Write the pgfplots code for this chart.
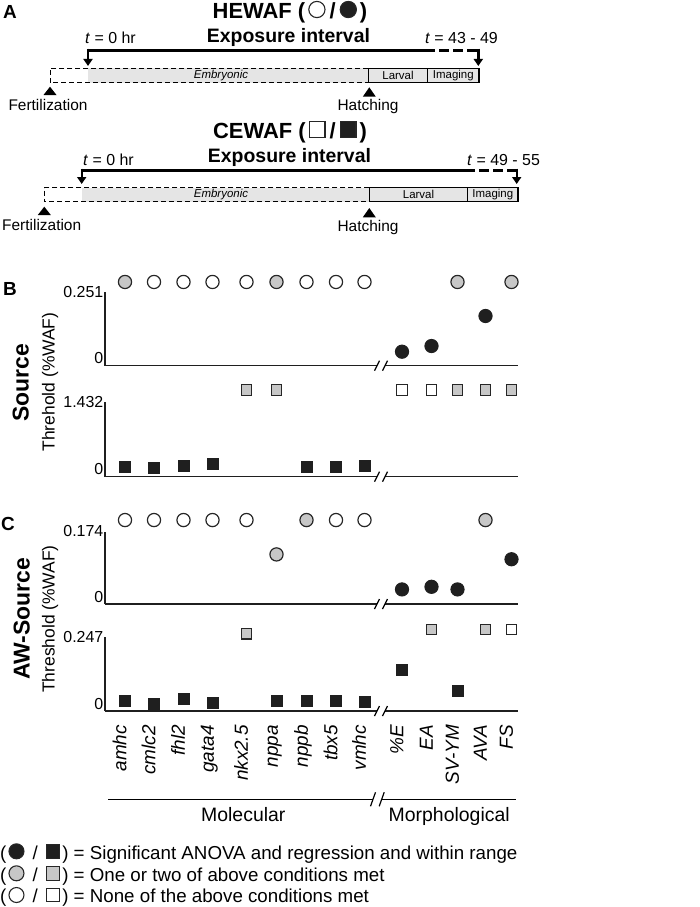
\documentclass[border=0pt]{standalone}
\usepackage{pgfplots}
\pgfplotsset{compat=1.18}
\usepackage{fontspec}
\setmainfont{Liberation Sans}
\usetikzlibrary{arrows.meta}

\definecolor{mgrey}{gray}{0.78}
\definecolor{medge}{gray}{0.15}
\definecolor{mblack}{gray}{0.12}
\definecolor{bargrey}{gray}{0.9}

\newcommand{\fs}[1]{\fontsize{#1}{#1}\selectfont}
% small inline symbols for titles and legend
\newcommand{\lcirc}[2][0.4em]{\tikz[baseline=-0.05em]\draw[line width=1.1bp,draw=medge,fill=#2] (0,0.36em) circle (#1);}
\newcommand{\lsq}[1]{\tikz[baseline=-0.05em]\draw[line width=1.1bp,draw=medge,fill=#1] (0,0) rectangle (0.72em,0.72em);}

\pgfplotsset{
  panel/.style={
    scale only axis, width=413.3bp, xmin=105, xmax=518.3, ymin=0, clip=false,
    axis x line*=bottom, axis y line*=left,
    x axis line style={draw=none},
    y axis line style={line width=1.4bp, draw=black!88},
    xtick=\empty, major tick length=0pt, tick style={draw=none},
    yticklabel style={font=\fs{16}, inner sep=1.5bp},
    extra y ticks={0}, extra y tick labels={0},
    extra y tick style={yticklabel style={anchor=south east}},
  },
  cw/.style={only marks, mark=*, mark size=6.6bp, mark options={draw=medge, fill=white, line width=1.2bp}},
  cg/.style={only marks, mark=*, mark size=6.6bp, mark options={draw=medge, fill=mgrey, line width=1.2bp}},
  cb/.style={only marks, mark=*, mark size=6.6bp, mark options={draw=mblack, fill=mblack, line width=1bp}},
  sw/.style={only marks, mark=square*, mark size=5.3bp, mark options={draw=medge, fill=white, line width=1.3bp}},
  sg/.style={only marks, mark=square*, mark size=5.3bp, mark options={draw=medge, fill=mgrey, line width=1.3bp}},
  sb/.style={only marks, mark=square*, mark size=5.5bp, mark options={draw=mblack, fill=mblack, line width=1bp}},
}

\begin{document}
\begin{tikzpicture}

% ---------------- B: Source, HEWAF ----------------
\begin{axis}[panel, at={(105bp,-365.7bp)}, anchor=south west, height=74bp,
  ymax=0.251, ytick={0.251}, yticklabels={0.251}]
\addplot[cw] coordinates {(154,0.284) (183.5,0.284) (212.5,0.284) (246.5,0.284) (306.5,0.284) (336,0.284) (364.5,0.284)};
\addplot[cg] coordinates {(125,0.284) (276.5,0.284) (457.5,0.284) (511.5,0.284)};
\addplot[cb] coordinates {(402,0.0475) (431.5,0.0668) (485.5,0.1686)};
\end{axis}

% ---------------- B: Source, CEWAF ----------------
\begin{axis}[panel, at={(105bp,-476.7bp)}, anchor=south west, height=75bp,
  ymax=1.432, ytick={1.432}, yticklabels={1.432}]
\addplot[sg] coordinates {(246.5,1.655) (276.5,1.655) (457.5,1.655) (485.5,1.655) (511.5,1.655)};
\addplot[sw] coordinates {(402,1.655) (431.5,1.655)};
\addplot[sb] coordinates {(125,0.185) (154,0.172) (183.5,0.197) (212.5,0.242) (306.5,0.178) (336,0.185) (364.5,0.197)};
\end{axis}

% ---------------- C: AW-Source, HEWAF ----------------
\begin{axis}[panel, at={(105bp,-604bp)}, anchor=south west, height=72.5bp,
  ymax=0.174, ytick={0.174}, yticklabels={0.174}]
\addplot[cw] coordinates {(125,0.2015) (154,0.2015) (183.5,0.2015) (212.5,0.2015) (246.5,0.2015) (336,0.2015) (364.5,0.2015)};
\addplot[cg] coordinates {(306.5,0.2015) (485.5,0.2015) (276.5,0.119)};
\addplot[cb] coordinates {(402,0.035) (431.5,0.0413) (457.5,0.035) (511.5,0.1074)};
\end{axis}

% ---------------- C: AW-Source, CEWAF ----------------
\begin{axis}[panel, at={(105bp,-711bp)}, anchor=south west, height=74.3bp,
  ymax=0.247, ytick={0.247}, yticklabels={0.247},
  xtick={125,154,183.5,212.5,246.5,276.5,306.5,336,364.5,402,431.5,457.5,485.5,511.5},
  xticklabels={amhc,cmlc2,fhl2,gata4,nkx2.5,nppa,nppb,tbx5,vmhc,\%E,EA,SV-YM,AVA,FS},
  xticklabel style={rotate=90, anchor=east, font=\fs{19}\itshape, inner sep=0pt,
    text height=0.72em, text depth=0.45em},
  xticklabel shift=14bp]
\addplot[sg] coordinates {(246.5,0.2566) (431.5,0.2709) (485.5,0.2709)};
\addplot[sw] coordinates {(511.5,0.2709)};
\addplot[sb] coordinates {(125,0.0325) (154,0.0249) (183.5,0.0412) (212.5,0.0282) (276.5,0.0336) (306.5,0.0336) (336,0.0336) (364.5,0.0303) (402,0.136) (457.5,0.0675)};
\end{axis}

\begin{scope}[x=1bp, y=-1bp]
% x axis lines with breaks
\foreach \yz in {365.7,476.7,604,711} {
  \draw[line width=1.4bp, draw=black!88] (105,\yz) -- (377,\yz);
  \draw[line width=1.4bp, draw=black!88] (385,\yz) -- (518.3,\yz);
  \draw[line width=1.2bp] (374.5,\yz+5) -- (379.5,\yz-5);
  \draw[line width=1.2bp] (382.5,\yz+5) -- (387.5,\yz-5);
}
% category bracket
\draw[line width=1.4bp] (108.3,799.3) -- (373,799.3);
\draw[line width=1.4bp] (381.7,799.3) -- (516,799.3);
\draw[line width=1.2bp] (370.5,806.3) -- (375.5,792.3);
\draw[line width=1.2bp] (379.2,806.3) -- (384.2,792.3);
\node[anchor=base, font=\fs{19.5}] at (243.3,821) {Molecular};
\node[anchor=base, font=\fs{19.5}] at (449.2,821) {Morphological};

% panel letters and side labels
\node[anchor=base west, font=\fs{19}\bfseries, inner sep=0] at (3,18.3) {A};
\node[anchor=base west, font=\fs{19}\bfseries, inner sep=0] at (3,295) {B};
\node[anchor=base west, font=\fs{19}\bfseries, inner sep=0] at (1,530) {C};
\node[rotate=90, anchor=base, font=\fs{23}\bfseries, inner sep=0] at (28.5,383) {Source};
\node[rotate=90, anchor=base, font=\fs{17.5}, inner sep=0] at (54.5,382) {Threhold (\%WAF)};
\node[rotate=90, anchor=base, font=\fs{23}\bfseries, inner sep=0] at (29.5,619) {AW-Source};
\node[rotate=90, anchor=base, font=\fs{17.5}, inner sep=0] at (54.5,619) {Threshold (\%WAF)};

% ---------------- A: HEWAF schematic ----------------
\node[anchor=base, font=\fs{22}\bfseries, inner sep=0] at (290,18.5)
  {HEWAF (\hspace{3bp}\lcirc[0.37em]{white}\hspace{4bp}/\hspace{4bp}\lcirc[0.37em]{mblack}\hspace{3bp})};
\node[anchor=base, font=\fs{19.5}\bfseries, inner sep=0] at (288.5,42.2) {Exposure interval};
\node[anchor=base west, font=\fs{16}, inner sep=0] at (85,43.3) {\textit{t} = 0 hr};
\node[anchor=base east, font=\fs{16}, inner sep=0] at (498,43.3) {\textit{t} = 43 - 49};
\draw[line width=3bp] (86.8,50) -- (425,50);
\draw[line width=3bp, dash pattern=on 10bp off 4bp] (425,50) -- (479.5,50);
\draw[line width=2.4bp, -{Triangle[length=7bp,width=9bp]}] (88,48.5) -- (88,66);
\draw[line width=2.4bp, -{Triangle[length=7bp,width=9bp]}] (478.3,48.5) -- (478.3,66);
\fill[bargrey] (88,68.3) rectangle (368.3,82.7);
\draw[line width=1bp, dash pattern=on 5bp off 3bp] (368.3,68.3) -- (50,68.3) -- (50,82.7) -- (368.3,82.7);
\draw[line width=1.2bp, fill=bargrey] (368.3,68.3) rectangle (427.7,82.7);
\draw[line width=1.2bp, fill=bargrey] (427.7,68.3) rectangle (479,82.7);
\node[font=\fs{11.5}\itshape] at (221,75.5) {Embryonic};
\node[font=\fs{11.5}] at (398,75.5) {Larval};
\node[font=\fs{11.5}] at (453.3,75.5) {Imaging};
\fill (50,86.7) -- (43.5,95) -- (56.5,95) -- cycle;
\fill (369.3,87.3) -- (362.8,96.7) -- (375.8,96.7) -- cycle;
\node[anchor=base, font=\fs{15.5}, inner sep=0] at (48,110.5) {Fertilization};
\node[anchor=base, font=\fs{15.5}, inner sep=0] at (368,110.5) {Hatching};

% ---------------- A: CEWAF schematic ----------------
\node[anchor=base, font=\fs{22}\bfseries, inner sep=0] at (290,138.5)
  {CEWAF (\hspace{3bp}\lsq{white}\hspace{4bp}/\hspace{4bp}\lsq{mblack}\hspace{3bp})};
\node[anchor=base, font=\fs{19.5}\bfseries, inner sep=0] at (289.5,162.2) {Exposure interval};
\node[anchor=base west, font=\fs{16}, inner sep=0] at (83,165) {\textit{t} = 0 hr};
\node[anchor=base west, font=\fs{16}, inner sep=0] at (467,165) {\textit{t} = 49 - 55};
\draw[line width=3bp] (80.5,170) -- (465,170);
\draw[line width=3bp, dash pattern=on 10bp off 4bp] (465,170) -- (518,170);
\draw[line width=2.4bp, -{Triangle[length=7bp,width=9bp]}] (81.7,168.5) -- (81.7,184);
\draw[line width=2.4bp, -{Triangle[length=7bp,width=9bp]}] (516.7,168.5) -- (516.7,184);
\fill[bargrey] (82,187.7) rectangle (369.3,201.7);
\draw[line width=1bp, dash pattern=on 5bp off 3bp] (369.3,187.7) -- (44.3,187.7) -- (44.3,201.7) -- (369.3,201.7);
\draw[line width=1.2bp, fill=bargrey] (369.3,187.7) rectangle (467.7,201.7);
\draw[line width=1.2bp, fill=bargrey] (467.7,187.7) rectangle (518,201.7);
\node[font=\fs{11.5}\itshape] at (221,194.7) {Embryonic};
\node[font=\fs{11.5}] at (418.5,194.7) {Larval};
\node[font=\fs{11.5}] at (492.8,194.7) {Imaging};
\fill (44.3,206.7) -- (37.8,215) -- (50.8,215) -- cycle;
\fill (369.3,208) -- (362.8,217.3) -- (375.8,217.3) -- cycle;
\node[anchor=base, font=\fs{15.5}, inner sep=0] at (41.7,230) {Fertilization};
\node[anchor=base, font=\fs{15.5}, inner sep=0] at (368,231) {Hatching};

% ---------------- legend ----------------
\node[anchor=base west, font=\fs{18.8}, inner sep=0] at (0,859)
  {(\hspace{2bp}\lcirc{mblack}\hspace{8bp}/\hspace{8bp}\lsq{mblack}\hspace{2bp}) = Significant ANOVA and regression and within range};
\node[anchor=base west, font=\fs{18.8}, inner sep=0] at (0,881)
  {(\hspace{2bp}\lcirc{mgrey}\hspace{8bp}/\hspace{8bp}\lsq{mgrey}\hspace{2bp}) = One or two of above conditions met};
\node[anchor=base west, font=\fs{18.8}, inner sep=0] at (0,902.7)
  {(\hspace{2bp}\lcirc{white}\hspace{8bp}/\hspace{8bp}\lsq{white}\hspace{2bp}) = None of the above conditions met};
\end{scope}

\pgfresetboundingbox
\path (0bp,0bp) rectangle (700bp,-907bp);
\end{tikzpicture}
\end{document}
